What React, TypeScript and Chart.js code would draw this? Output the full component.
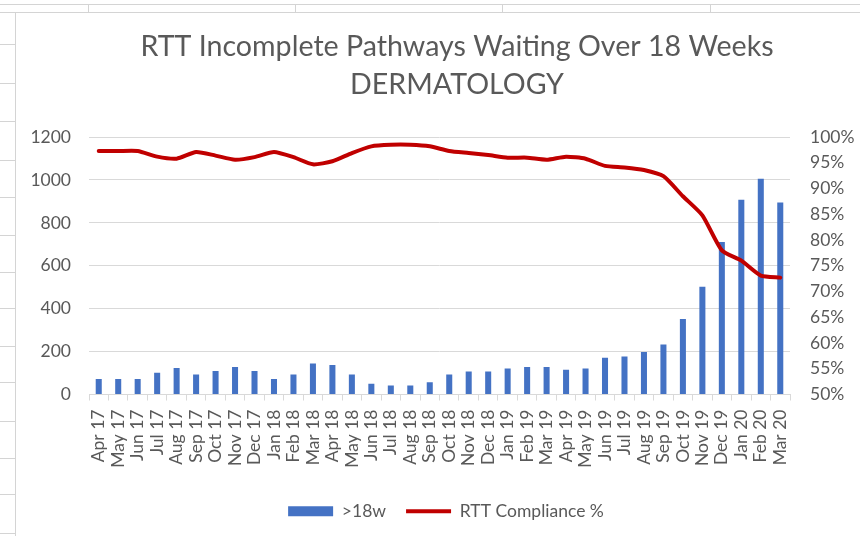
import React, { useEffect, useRef } from "react";
import { Chart, registerables } from "chart.js";

Chart.register(...registerables);

const titleLines = ["RTT Incomplete Pathways Waiting Over 18 Weeks", "DERMATOLOGY"];

const months = [
  "Apr 17", "May 17", "Jun 17", "Jul 17", "Aug 17", "Sep 17", "Oct 17", "Nov 17", "Dec 17",
  "Jan 18", "Feb 18", "Mar 18", "Apr 18", "May 18", "Jun 18", "Jul 18", "Aug 18", "Sep 18",
  "Oct 18", "Nov 18", "Dec 18", "Jan 19", "Feb 19", "Mar 19", "Apr 19", "May 19", "Jun 19",
  "Jul 19", "Aug 19", "Sep 19", "Oct 19", "Nov 19", "Dec 19", "Jan 20", "Feb 20", "Mar 20",
];

const over18w = [
  72, 72, 72, 101, 123, 93, 109, 128, 109,
  72, 93, 145, 137, 93, 50, 42, 42, 57,
  93, 107, 107, 121, 128, 128, 115, 121, 171,
  177, 198, 233, 352, 502, 711, 908, 1006, 895,
];

const compliancePct = [
  97.3, 97.3, 97.3, 96.2, 95.8, 97.1, 96.4, 95.6, 96.1,
  97.1, 96.1, 94.7, 95.3, 96.9, 98.2, 98.5, 98.5, 98.2,
  97.3, 96.9, 96.5, 96.0, 96.0, 95.6, 96.2, 95.8, 94.4,
  94.1, 93.6, 92.4, 88.5, 84.8, 78.0, 76.0, 73.1, 72.7,
];

const seriesNames = [">18w", "RTT Compliance %"];

const FONT = "Lato, 'Noto Sans', sans-serif";
const TEXT = "#595959";
const GRID = "#d9d9d9";
const SHEET = "#d4d4d4";

const boxShift = {
  id: "boxShift",
  afterLayout(chart: any) {
    const lg = chart.legend;
    if (lg) {
      lg.left += 8;
      lg.right += 8;
    }
    const tb = chart.titleBlock;
    if (tb) {
      tb.left += 19;
      tb.right += 19;
    }
  },
};

export default function App() {
  const ref = useRef<HTMLCanvasElement | null>(null);

  useEffect(() => {
    document.body.style.margin = "0";
    const ctx = ref.current!.getContext("2d")!;
    const chart = new Chart(ctx, {
      type: "bar",
      data: {
        labels: months,
        datasets: [
          {
            type: "bar",
            label: seriesNames[0],
            data: over18w,
            backgroundColor: "#4472C4",
            borderWidth: 0,
            barPercentage: 0.31,
            categoryPercentage: 1,
            yAxisID: "y",
            order: 1,
            pointStyle: "rect",
          } as any,
          {
            type: "line",
            label: seriesNames[1],
            data: compliancePct,
            borderColor: "#C00000",
            backgroundColor: "#C00000",
            borderWidth: 4,
            pointRadius: 0,
            pointHoverRadius: 0,
            tension: 0.2,
            yAxisID: "y1",
            order: 0,
            pointStyle: "line",
            borderCapStyle: "round",
            borderJoinStyle: "round",
          } as any,
        ],
      },
      options: {
        responsive: false,
        animation: false,
        devicePixelRatio: 1,
        layout: { padding: { left: 0, right: 40, top: 0, bottom: 6 } },
        plugins: {
          title: {
            display: true,
            text: titleLines,
            color: TEXT,
            font: { family: FONT, size: 28.6, weight: "normal", lineHeight: 1.33 },
            padding: { top: 28, bottom: 33 },
          },
          legend: {
            position: "bottom",
            labels: {
              usePointStyle: true,
              pointStyleWidth: 45,
              boxHeight: 10,
              padding: 20,
              color: TEXT,
              font: { family: FONT, size: 17.5 },
              sort: (a: any, b: any) => a.datasetIndex - b.datasetIndex,
            },
          },
          tooltip: { enabled: false },
        },
        scales: {
          x: {
            type: "category",
            offset: true,
            grid: {
              display: true,
              offset: true,
              drawOnChartArea: false,
              drawTicks: true,
              tickLength: 6,
              color: GRID,
            },
            border: { display: true, color: GRID },
            ticks: {
              autoSkip: false,
              maxRotation: 90,
              minRotation: 90,
              padding: 9,
              color: TEXT,
              font: { family: FONT, size: 17.5 },
            },
            afterFit: (s: any) => {
              s.height = 88;
            },
          },
          y: {
            position: "left",
            min: 0,
            max: 1200,
            grid: { color: GRID, drawTicks: false },
            border: { display: false },
            ticks: {
              stepSize: 200,
              padding: 18,
              color: TEXT,
              font: { family: FONT, size: 17.5 },
              callback: (v: any) => String(v),
            },
            afterFit: (s: any) => {
              s.width = 73;
            },
          },
          y1: {
            position: "right",
            min: 50,
            max: 100,
            grid: { drawOnChartArea: false, drawTicks: false },
            border: { display: false },
            ticks: {
              stepSize: 5,
              padding: 20,
              color: TEXT,
              font: { family: FONT, size: 17.5 },
              callback: (v: any) => `${v}%`,
            },
            afterFit: (s: any) => {
              s.width = 70;
            },
          },
        },
      } as any,
      plugins: [boxShift],
    });
    return () => chart.destroy();
  }, []);

  const rowLines = [44, 83, 121, 160, 197, 235, 272, 308, 346, 382, 421, 458, 494, 533];
  const colLines = [88, 295, 502, 710];

  return (
    <div style={{ position: "relative", width: 860, height: 536, background: "#fff", overflow: "hidden" }}>
      <div style={{ position: "absolute", left: 0, top: 4, width: 860, height: 1, background: SHEET }} />
      <div style={{ position: "absolute", left: 0, top: 12, width: 860, height: 1, background: SHEET }} />
      {colLines.map((x) => (
        <div key={"c" + x} style={{ position: "absolute", left: x, top: 4, width: 1, height: 8, background: SHEET }} />
      ))}
      <div style={{ position: "absolute", left: 15, top: 12, width: 1, height: 524, background: SHEET }} />
      {rowLines.map((y) => (
        <div key={"r" + y} style={{ position: "absolute", left: 0, top: y, width: 15, height: 1, background: SHEET }} />
      ))}
      <canvas ref={ref} width={884} height={536} style={{ position: "absolute", left: 16, top: 0 }} />
    </div>
  );
}
